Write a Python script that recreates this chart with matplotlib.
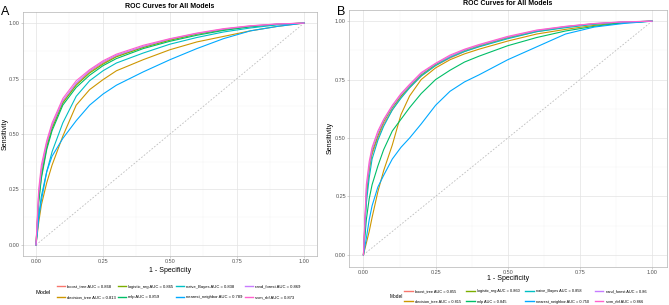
"""ROC curves for all models, two panels (A, B)."""
import numpy as np
from matplotlib import pyplot as plt

plt.rcParams['font.family'] = ['Liberation Sans', 'DejaVu Sans']

models = ['boost_tree', 'decision_tree', 'logistic_reg', 'mlp',
          'naive_Bayes', 'nearest_neighbor', 'rand_forest', 'svm_rbf']
colors = ['#F8766D', '#CD9600', '#7CAE00', '#00BE67',
          '#00BFC4', '#00A9FF', '#C77CFF', '#FF61CC']

# panel A
auc_a = ['0.868', '0.813', '0.865', '0.859', '0.838', '0.789', '0.869', '0.873']
fpr_a = [0, .01, .02, .04, .06, .1, .15, .2, .25, .3, .4, .5, .6, .7, .8, .9, 1]
tpr_a = {
    'boost_tree':       [0, .22, .33, .45, .535, .645, .725, .78, .82, .852, .893, .926, .952, .972, .986, .995, 1],
    'decision_tree':    [0, .10, .18, .28, .36, .49, .63, .70, .745, .785, .835, .88, .915, .94, .965, .985, 1],
    'logistic_reg':     [0, .20, .31, .44, .525, .64, .72, .775, .815, .848, .89, .923, .95, .97, .985, .995, 1],
    'mlp':              [0, .19, .30, .43, .515, .63, .71, .765, .808, .84, .885, .918, .945, .967, .983, .994, 1],
    'naive_Bayes':      [0, .13, .22, .33, .42, .55, .67, .74, .785, .82, .865, .905, .935, .96, .978, .992, 1],
    'nearest_neighbor': [0, .12, .20, .33, .40, .48, .56, .63, .68, .72, .78, .835, .885, .93, .965, .985, 1],
    'rand_forest':      [0, .23, .34, .46, .54, .65, .73, .785, .825, .855, .895, .928, .953, .973, .987, .996, 1],
    'svm_rbf':          [0, .25, .36, .47, .55, .66, .74, .79, .83, .86, .90, .93, .955, .975, .988, .996, 1],
}

# panel B
auc_b = ['0.855', '0.815', '0.860', '0.845', '0.858', '0.750', '0.86', '0.866']
fpr_b = [0, .01, .02, .03, .05, .07, .1, .13, .16, .2, .25, .3, .35, .4, .5, .6, .7, .8, .9, 1]
tpr_b = {
    'boost_tree':       [0, .26, .36, .43, .50, .56, .62, .675, .715, .765, .81, .842, .87, .892, .928, .955, .975, .988, .996, 1],
    'decision_tree':    [0, .05, .10, .16, .27, .36, .47, .60, .68, .75, .80, .835, .86, .88, .915, .945, .965, .982, .994, 1],
    'logistic_reg':     [0, .25, .37, .44, .51, .57, .63, .68, .72, .77, .815, .848, .875, .895, .93, .958, .976, .989, .996, 1],
    'mlp':              [0, .15, .24, .30, .38, .45, .53, .58, .63, .69, .75, .79, .825, .85, .895, .93, .958, .978, .993, 1],
    'naive_Bayes':      [0, .22, .33, .41, .49, .55, .62, .67, .715, .765, .81, .845, .87, .89, .925, .955, .972, .987, .996, 1],
    'nearest_neighbor': [0, .07, .15, .21, .29, .34, .41, .46, .50, .56, .64, .70, .74, .77, .835, .89, .945, .975, .99, 1],
    'rand_forest':      [0, .28, .38, .45, .52, .575, .635, .685, .725, .775, .818, .85, .877, .897, .932, .96, .977, .99, .997, 1],
    'svm_rbf':          [0, .30, .40, .46, .53, .58, .64, .69, .73, .78, .82, .855, .88, .90, .935, .962, .978, .99, .997, 1],
}

W, H = 669, 305


def px_rect(left, top, right, bottom):
    return [left / W, 1 - bottom / H, (right - left) / W, (bottom - top) / H]


def style_axes(ax, fs):
    ax.set_xlim(-0.05, 1.05)
    ax.set_ylim(-0.05, 1.05)
    ticks = [0, 0.25, 0.5, 0.75, 1]
    ax.set_xticks(ticks)
    ax.set_yticks(ticks)
    ax.set_xticklabels(['0.00', '0.25', '0.50', '0.75', '1.00'])
    ax.set_yticklabels(['0.00', '0.25', '0.50', '0.75', '1.00'])
    ax.set_xticks(np.arange(0.125, 1, 0.25), minor=True)
    ax.set_yticks(np.arange(0.125, 1, 0.25), minor=True)
    ax.grid(which='major', color='#e3e3e3', lw=0.5)
    ax.grid(which='minor', color='#f2f2f2', lw=0.3)
    ax.set_axisbelow(True)
    ax.tick_params(which='major', length=1.2, width=0.4, color='#b3b3b3',
                   labelsize=fs, labelcolor='#555555', pad=1)
    ax.tick_params(which='minor', length=0)
    for s in ax.spines.values():
        s.set_color('#b3b3b3')
        s.set_linewidth(0.5)


def draw_panel(rect, fpr, tpr, auc, fs, title_fs, ylab_x, xlab_pad):
    ax = fig.add_axes(rect)
    style_axes(ax, fs)
    ax.plot([0, 1], [0, 1], ls=(0, (2, 2)), color='#bdbdbd', lw=0.6)
    handles = []
    for m, c in zip(models, colors):
        ln, = ax.plot(fpr, tpr[m], color=c, lw=0.8)
        handles.append(ln)
    ax.set_title('ROC Curves for All Models', fontsize=title_fs,
                 fontweight='bold', pad=3)
    ax.set_xlabel('1 - Specificity', fontsize=fs + 1, labelpad=xlab_pad)
    ax.set_ylabel('Sensitivity', fontsize=fs + 1)
    ax.yaxis.set_label_coords(ylab_x, 0.5)
    labels = [f'{m} AUC = {a}' for m, a in zip(models, auc)]
    return ax, handles, labels


fig = plt.figure(figsize=(6.69, 3.05), dpi=100)

ax_a, h_a, l_a = draw_panel(px_rect(22.6, 12, 317.4, 256), fpr_a, tpr_a, auc_a, 4, 5,
                            (9 - 22.6) / 294.8, 2)
ax_b, h_b, l_b = draw_panel(px_rect(349, 9.5, 666.5, 266.5), fpr_b, tpr_b, auc_b, 4, 5,
                            (334 - 349) / 317.5, 0.5)

leg_a = fig.legend(h_a, l_a, ncol=4, loc='center left',
                   bbox_to_anchor=(55 / W, 1 - 292 / H), fontsize=3.0, frameon=False,
                   handlelength=1.9, handletextpad=0.5, columnspacing=0.6,
                   labelspacing=1.6, borderpad=0)
fig.text(43 / W, 1 - 292 / H, 'Model', fontsize=4, ha='center', va='center')

leg_b = fig.legend(h_b, l_b, ncol=4, loc='center left',
                   bbox_to_anchor=(402 / W, 1 - 296.5 / H), fontsize=2.8, frameon=False,
                   handlelength=2.2, handletextpad=0.6, columnspacing=1.4,
                   labelspacing=1.6, borderpad=0)
fig.text(396 / W, 1 - 296.5 / H, 'Model', fontsize=3.4, ha='center', va='center')
for leg in (leg_a, leg_b):
    for ln in leg.get_lines():
        ln.set_linewidth(1.0)

fig.text(5 / W, 1 - 12 / H, 'A', fontsize=9, ha='center', va='center')
fig.text(341 / W, 1 - 12 / H, 'B', fontsize=9, ha='center', va='center')

fig.savefig('out.png', dpi=100)
